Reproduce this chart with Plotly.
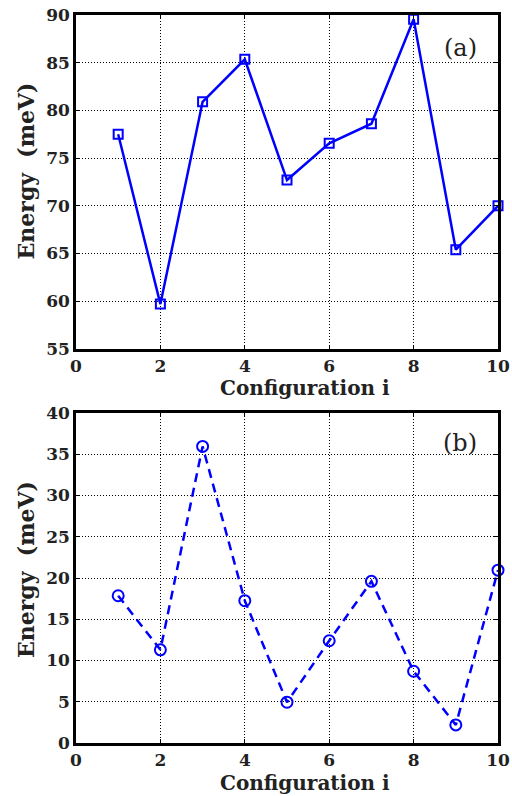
import plotly.graph_objects as go

config = [1, 2, 3, 4, 5, 6, 7, 8, 9, 10]
energy_a = [77.5, 59.7, 80.9, 85.35, 72.7, 76.55, 78.6, 89.55, 65.4, 70.0]
energy_b = [17.85, 11.3, 35.95, 17.25, 4.95, 12.4, 19.6, 8.7, 2.2, 20.95]

font_fam = "DejaVu Serif, serif"
blue = "#0000ff"
ink = "#222"

fig = go.Figure()
fig.add_trace(go.Scatter(
    x=config, y=energy_a, mode="lines+markers",
    line=dict(color=blue, width=2.5),
    marker=dict(symbol="square-open", size=9, color=blue, line=dict(width=2, color=blue)),
    xaxis="x", yaxis="y", showlegend=False, cliponaxis=False))
fig.add_trace(go.Scatter(
    x=config, y=energy_b, mode="lines+markers",
    line=dict(color=blue, width=2.5, dash="9px,6px"),
    marker=dict(symbol="circle-open", size=11, color=blue, line=dict(width=2, color=blue)),
    xaxis="x2", yaxis="y2", showlegend=False, cliponaxis=False))

axis_common = dict(
    showline=True, linecolor="black", linewidth=2.5, mirror="ticks",
    ticks="inside", ticklen=4, tickcolor="black", tickwidth=1,
    showgrid=True, gridcolor="black", griddash="1px,2px", gridwidth=1,
    zeroline=False, automargin=False,
    tickfont=dict(family=font_fam, size=17, color=ink),
    tickprefix="<b>", ticksuffix="</b>",
)

fig.update_layout(
    width=512, height=796,
    margin=dict(l=0, r=0, t=0, b=0),
    paper_bgcolor="white", plot_bgcolor="white",
    xaxis=dict(domain=[0.1484, 0.9727], range=[0, 10], dtick=2, anchor="y", **axis_common),
    yaxis=dict(domain=[0.5616, 0.9812], range=[55, 90], dtick=5, anchor="x", **axis_common),
    xaxis2=dict(domain=[0.1484, 0.9727], range=[0, 10], dtick=2, anchor="y2", **axis_common),
    yaxis2=dict(domain=[0.0665, 0.4812], range=[0, 40], dtick=5, anchor="x2", **axis_common),
)

xt_font = dict(family=font_fam, size=20, color=ink)
yt_font = dict(family=font_fam, size=22, color=ink)
fig.add_annotation(x=0.5957, y=0.5130, xref="paper", yref="paper", text="<b>Configuration i</b>",
                   showarrow=False, font=xt_font, xanchor="center", yanchor="middle")
fig.add_annotation(x=0.5957, y=0.0, xref="paper", yref="paper", text="<b>Configuration i</b>",
                   showarrow=False, font=xt_font, xanchor="center", yanchor="bottom", borderpad=0)
for yc in [0.7846, 0.2839]:
    fig.add_annotation(x=0.0508, y=yc, xref="paper", yref="paper", text="<b>Energy&nbsp;&nbsp;(meV)</b>",
                       showarrow=False, font=yt_font, textangle=-90, xanchor="center", yanchor="middle")

fig.add_annotation(x=9.1, y=86.5, xref="x", yref="y", text="(a)", showarrow=False,
                   font=dict(family=font_fam, size=24, color=ink))
fig.add_annotation(x=9.1, y=36.4, xref="x2", yref="y2", text="(b)", showarrow=False,
                   font=dict(family=font_fam, size=24, color=ink))

# drop the default 8px body margin so the figure sits at the page corner
fig.write_html("out.html", config={"displayModeBar": False},
               post_script="document.body.style.margin='0';")
